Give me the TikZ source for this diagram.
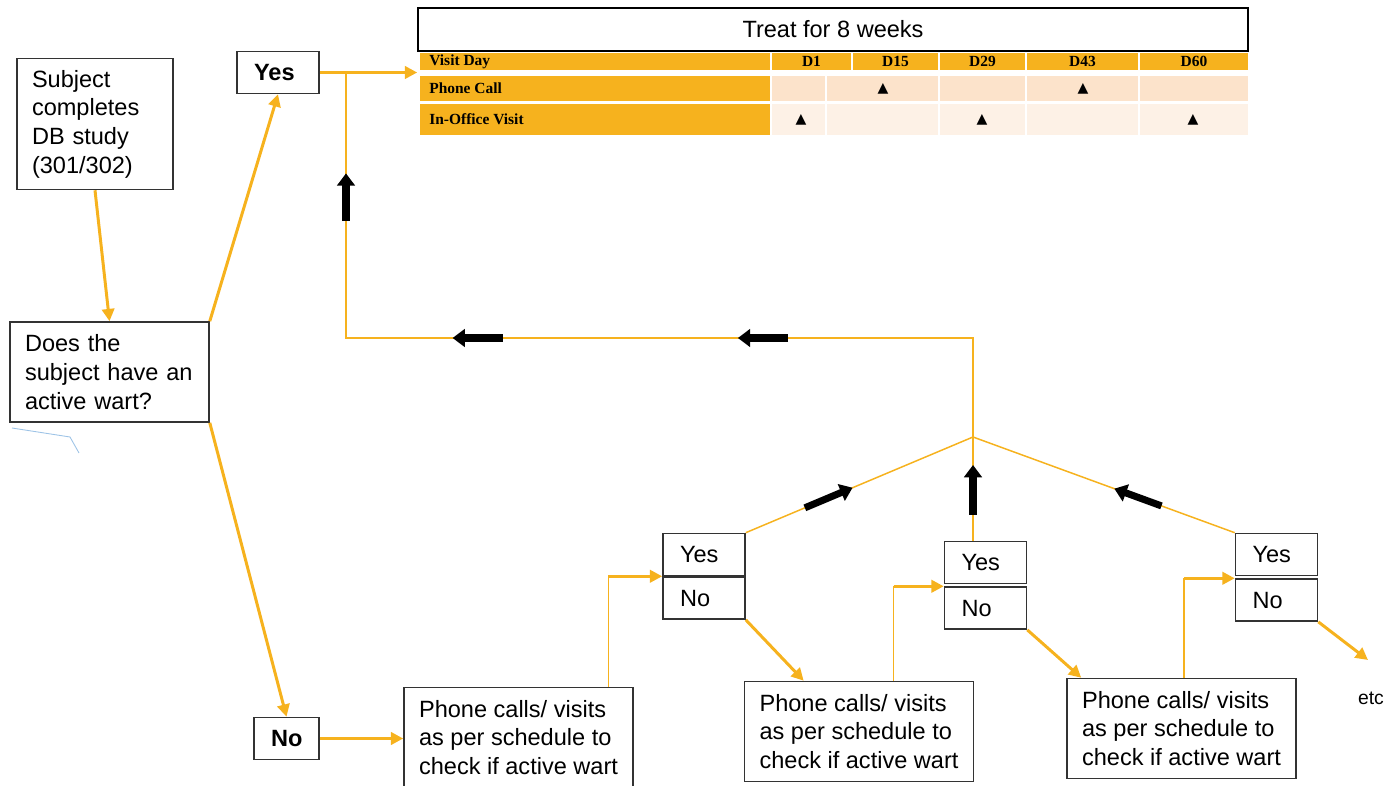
\documentclass[tikz,border=0pt]{standalone}
\usepackage{fontspec}
\setmainfont{Liberation Sans}
\newfontfamily\tabfont{Liberation Serif}
\newfontfamily\symfont{DejaVu Sans}
\usetikzlibrary{arrows.meta,positioning,calc}
\definecolor{wartorange}{HTML}{F6B21E}
\definecolor{callpeach}{HTML}{FCE3CB}
\definecolor{visitpeach}{HTML}{FDF1E6}
\definecolor{paleblue}{HTML}{9DC3E6}

\begin{document}
\begin{tikzpicture}[x=0.02cm,y=-0.02cm,
  box/.style={draw=black!80,line width=0.9pt,fill=white,align=left,inner xsep=0.3cm,inner ysep=0pt,font=\fontsize{13.4}{16.3}\selectfont},
  phone/.style={box,inner xsep=0pt,minimum width=4.58cm,minimum height=2cm},
  yn/.style={draw=black!80,line width=0.9pt,fill=white,align=left,text width=0.96cm,inner xsep=0.34cm,inner ysep=0pt,minimum height=0.84cm,font=\fontsize{13.4}{16}\selectfont},
  tab/.style={inner sep=0pt,font=\tabfont\bfseries\fontsize{8.8}{10}\selectfont},
  tri/.style={inner sep=0pt,font=\symfont\fontsize{8}{8}\selectfont},
  oarr/.style={draw=wartorange,line width=1.7pt,-{Triangle[length=7pt,width=7pt]}},
  oline/.style={draw=wartorange,line width=0.85pt},
  blk/.style={draw=black,line width=4pt,-{Triangle[length=7pt,width=10pt]}}]
\useasboundingbox (0,0) rectangle (1396,786);

% schedule table
\node[draw,line width=1pt,minimum width=16.6cm,minimum height=0.86cm,font=\fontsize{13.4}{16}\selectfont] (treat) at (833,29.5) {Treat for 8 weeks};
\fill[wartorange] (420,53) rectangle (770,70);
\fill[wartorange] (420,76) rectangle (770,101);
\fill[wartorange] (420,104) rectangle (770,135);
\node[tab,anchor=west] (vday) at (429,61.5) {Visit Day};
\node[tab,anchor=west] (call) at (429,88.5) {Phone Call};
\node[tab,anchor=west] (visit) at (429,119.5) {In-Office Visit};
\foreach \a/\b/\t [count=\i] in {772/851/D1,853/938/D15,940/1025/D29,1027/1138/D43,1140/1248/D60}{
  \fill[wartorange] (\a,53) rectangle (\b,70);
  \node[tab] (d\i) at ({(\a+\b)/2},61.5) {\t};}
\foreach \a/\b in {772/825,827/938,940/1025,1027/1138,1140/1248}{
  \fill[callpeach] (\a,76) rectangle (\b,101);
  \fill[visitpeach] (\a,104) rectangle (\b,135);}
\foreach \x [count=\i] in {883,1083}{\node[tri] (c\i) at (\x,88.5) {▲};}
\foreach \x [count=\i] in {801,982,1193}{\node[tri] (v\i) at (\x,119.5) {▲};}

% flow boxes
\node[box,text width=2.52cm,minimum height=2.62cm] (subj) at (95,124) {Subject\\completes\\DB study\\(301/302)};
\node[box,text width=3.38cm,minimum height=2cm] (does) at (109.5,372) {Does the\\subject have an\\active wart?};
\node[yn,font=\fontsize{13.4}{16}\selectfont\bfseries] (yes) at (278,72.5) {Yes};
\node[yn,text width=0.62cm,font=\fontsize{13.4}{16}\selectfont\bfseries] (no) at (286.5,738.5) {No};
\node[phone] (p1) at (518.5,737.5) {Phone calls/ visits\\as per schedule to\\check if active wart};
\node[phone] (p2) at (859,731.5) {Phone calls/ visits\\as per schedule to\\check if active wart};
\node[phone] (p3) at (1181.5,728.5) {Phone calls/ visits\\as per schedule to\\check if active wart};
\node[yn] (y1) at (704,554.5) {Yes};
\node[yn,below=0pt of y1] (n1) {No};
\node[yn] (y2) at (985.5,562.5) {Yes};
\node[yn,below=0.04cm of y2] (n2) {No};
\node[yn] (y3) at (1276.5,554.5) {Yes};
\node[yn,below=0.04cm of y3] (n3) {No};
\node[font=\fontsize{11}{13}\selectfont] (etc) at (1371,698) {etc};

% junction points
\coordinate (lc) at (346,338);
\coordinate (rc) at (973,338);
\coordinate (j) at (973,437);
\coordinate (top) at (lc |- yes.east);
\coordinate (y2top) at (y2.north -| j);
\coordinate (etcin) at (1368,660);
\coordinate (k1) at ($(p1.north west)!0.89!(p1.north east)$);
\coordinate (k2) at ($(p2.north west)!0.65!(p2.north east)$);
\coordinate (k3) at ($(p3.north west)!0.51!(p3.north east)$);

% connectors
\draw[oarr] (subj.south) -- (does.north);
\draw[oarr] (does.north east) -- (yes.south);
\draw[oarr] (does.south east) -- (no.north);
\draw[oarr] (yes.east) -- (yes.east -| treat.west);
\draw[oarr] (no.east) -- (p1.west |- no.east);
\draw[oline] (j) -- (rc) -- (lc) -- (top);
\draw[oline] (y1.north east) -- (j);
\draw[oline] (y2top) -- (j);
\draw[oline] (y3.north west) -- (j);
\foreach \k/\n in {k1/n1,k2/n2,k3/n3}{
  \draw[oline] (\k) -- (\k |- \n.north west);
  \draw[oarr] (\k |- \n.north west) -- (\n.north west);}
\draw[oarr] (n1.south east) -- ($(p2.north west)!0.26!(p2.north east)$);
\draw[oarr] (n2.south east) -- ($(p3.north west)!0.065!(p3.north east)$);
\draw[oarr] (n3.south east) -- (etcin);
\foreach \a/\b/\p/\q in {lc/top/0.44/0.62,rc/lc/0.295/0.375,rc/lc/0.75/0.83,y1.north east/j/0.26/0.47,y2top/j/0.25/0.73,y3.north west/j/0.28/0.46}{
  \draw[blk] ($(\a)!\p!(\b)$) -- ($(\a)!\q!(\b)$);}

% stray mark
\draw[paleblue,line width=0.5pt] (12,428) -- (70,437) -- (79,453);
\end{tikzpicture}
\end{document}
